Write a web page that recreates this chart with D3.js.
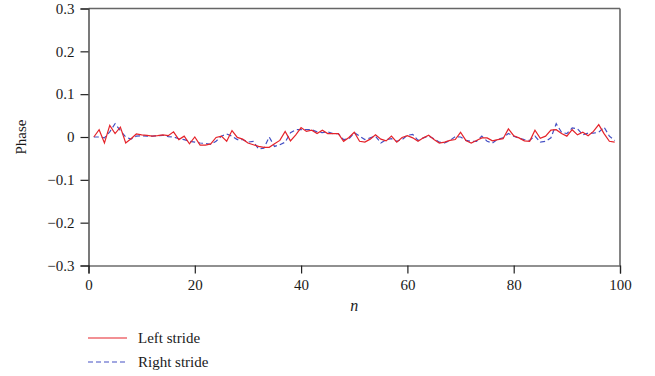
<!DOCTYPE html>
<html>
<head>
<meta charset="utf-8">
<script src="https://cdn.jsdelivr.net/npm/d3@7"></script>
<style>
  html, body { margin: 0; padding: 0; background: #fff; }
  svg { display: block; }
  text { font-family: "Liberation Serif", "DejaVu Serif", serif; fill: #1a1a1a; }
</style>
</head>
<body>
<svg id="chart" width="655" height="376"></svg>
<script>
// ---- data ----
const leftStride = [
  0, 0.017, -0.014, 0.027, 0.008, 0.023, -0.014, -0.004, 0.007, 0.005,
  0.004, 0.002, 0.003, 0.005, 0.003, 0.012, -0.006, 0.002, -0.016, 0,
  -0.019, -0.019, -0.016, -0.001, 0.002, -0.01, 0.015, -0.001, -0.005, -0.014,
  -0.018, -0.022, -0.024, -0.024, -0.016, -0.008, 0.013, -0.009, 0.005, 0.022,
  0.013, 0.016, 0.008, 0.016, 0.008, 0.008, 0.008, -0.01, -0.001, 0.011,
  -0.01, -0.012, -0.005, 0.005, -0.005, -0.009, 0.002, -0.012, -0.001, 0.003,
  -0.002, -0.01, -0.002, 0.004, -0.006, -0.014, -0.012, -0.008, -0.006, 0.011,
  -0.008, -0.014, -0.008, -0.002, -0.002, -0.009, -0.006, -0.004, 0.019, 0.003,
  -0.002, -0.009, -0.01, 0.016, -0.003, 0.002, 0.016, 0.017, 0.008, 0.002,
  0.017, 0.005, 0.011, 0.003, 0.013, 0.029, 0.008, -0.01, -0.012
];
const rightStride = [
  0, 0, -0.002, 0.012, 0.031, 0.015, 0, -0.005, 0.002, 0.003,
  0.002, 0.002, 0.003, 0.004, 0.001, 0, -0.004, -0.006, -0.01, -0.012,
  -0.014, -0.015, -0.017, -0.01, 0.002, 0.007, 0.002, -0.006, -0.006, -0.012,
  -0.01, -0.028, -0.026, 0, -0.022, -0.018, -0.012, 0.01, 0.017, 0.017,
  0.017, 0.017, 0.012, 0.01, 0.012, 0.008, 0.008, -0.006, -0.004, 0.01,
  0.002, -0.006, -0.002, 0.002, -0.014, -0.006, -0.004, -0.01, -0.006, 0.004,
  0.006, -0.008, -0.002, 0.002, -0.004, -0.012, -0.014, -0.008, 0.001, 0,
  -0.008, -0.01, -0.01, 0.002, -0.01, -0.014, -0.005, -0.002, 0.008, 0.002,
  -0.003, -0.006, -0.008, 0.002, -0.012, -0.01, -0.002, 0.031, 0.011, 0.008,
  0.021, 0.019, 0.005, 0.009, 0.009, 0.011, 0.023, 0.002, -0.008
];
const nValues = leftStride.map((_, i) => i + 1);
const xTicks = [0, 20, 40, 60, 80, 100];
const yTicks = [-0.3, -0.2, -0.1, 0, 0.1, 0.2, 0.3];
const seriesNames = ["Left stride", "Right stride"];

// ---- layout ----
const svg = d3.select("#chart");
const x = d3.scaleLinear().domain([0, 100]).range([88.5, 620]);
const y = d3.scaleLinear().domain([-0.3, 0.3]).range([265.5, 8.5]);
const fmt = v => v === 0 ? "0" : d3.format(".1f")(v).replace("-", "\u2212");

// frame: top and right borders
svg.append("line").attr("x1", x(0)).attr("x2", x(100)).attr("y1", y(0.3)).attr("y2", y(0.3))
  .attr("stroke", "#666").attr("stroke-width", 1.6);
svg.append("line").attr("x1", x(100)).attr("x2", x(100)).attr("y1", y(0.3)).attr("y2", y(-0.3))
  .attr("stroke", "#666").attr("stroke-width", 1.6);

// axes
const xAxis = d3.axisBottom(x).tickValues(xTicks).tickSize(8).tickPadding(6).tickFormat(d3.format("d"));
const yAxis = d3.axisLeft(y).tickValues(yTicks).tickSize(8).tickPadding(6).tickFormat(fmt);

const gx = svg.append("g").attr("transform", `translate(0,${y(-0.3)})`).call(xAxis);
const gy = svg.append("g").attr("transform", `translate(${x(0)},0)`).call(yAxis);
[gx, gy].forEach(g => {
  g.select(".domain").attr("stroke", "#222").attr("stroke-width", 1.2);
  g.selectAll(".tick line").attr("stroke", "#222").attr("stroke-width", 1.2);
  g.selectAll(".tick text").attr("font-family", "Liberation Serif, serif").attr("font-size", 15).attr("fill", "#1a1a1a");
});

// lines
const lineGen = d3.line().x((d, i) => x(nValues[i])).y(d => y(d));
svg.append("path").datum(rightStride).attr("d", lineGen)
  .attr("fill", "none").attr("stroke", "#4450c4").attr("stroke-width", 1.2)
  .attr("stroke-dasharray", "5,3");
svg.append("path").datum(leftStride).attr("d", lineGen)
  .attr("fill", "none").attr("stroke", "#e5232a").attr("stroke-width", 1.2);

// axis titles
svg.append("text").attr("x", (x(0) + x(100)) / 2).attr("y", 311)
  .attr("text-anchor", "middle").attr("font-size", 16).attr("font-style", "italic").text("n");
svg.append("text").attr("transform", `translate(26,${y(0)}) rotate(-90)`)
  .attr("text-anchor", "middle").attr("font-size", 15).text("Phase");

// legend
const legend = svg.append("g");
const legY = [338, 362];
legend.append("line").attr("x1", 88).attr("x2", 127).attr("y1", legY[0]).attr("y2", legY[0])
  .attr("stroke", "#e5232a").attr("stroke-width", 1.2);
legend.append("line").attr("x1", 88).attr("x2", 127).attr("y1", legY[1]).attr("y2", legY[1])
  .attr("stroke", "#4450c4").attr("stroke-width", 1.2).attr("stroke-dasharray", "5,3");
seriesNames.forEach((name, i) => {
  legend.append("text").attr("x", 138).attr("y", legY[i] + 5).attr("font-size", 15).text(name);
});
</script>
</body>
</html>
